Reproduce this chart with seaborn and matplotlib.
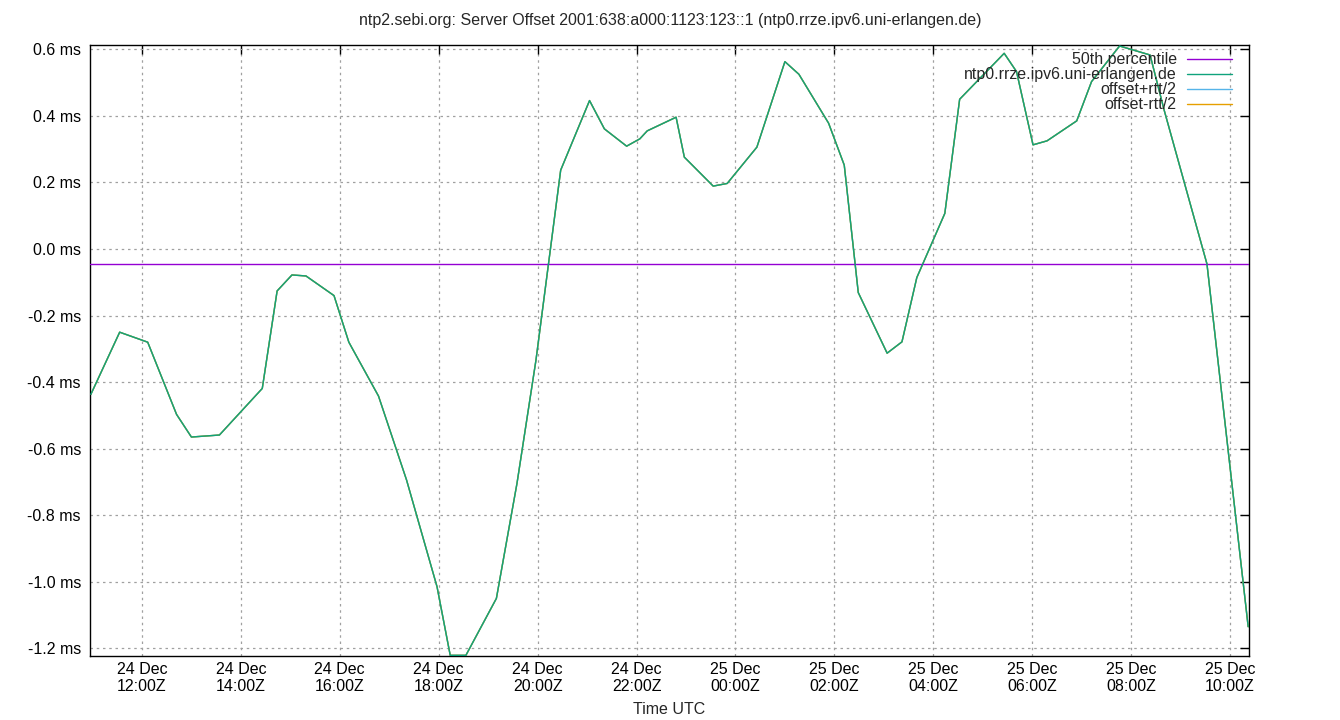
import matplotlib
matplotlib.use("Agg")
import pandas as pd
import matplotlib.pyplot as plt
import matplotlib.dates as mdates
import matplotlib.ticker as mticker
import seaborn as sns

times = [
    "2024-12-24 10:58", "2024-12-24 11:33", "2024-12-24 12:07", "2024-12-24 12:42",
    "2024-12-24 13:00", "2024-12-24 13:34", "2024-12-24 14:26", "2024-12-24 14:44",
    "2024-12-24 15:02", "2024-12-24 15:19", "2024-12-24 15:53", "2024-12-24 16:11",
    "2024-12-24 16:47", "2024-12-24 17:21", "2024-12-24 17:58", "2024-12-24 18:14",
    "2024-12-24 18:33", "2024-12-24 19:10", "2024-12-24 19:35", "2024-12-24 19:58",
    "2024-12-24 20:28", "2024-12-24 21:03", "2024-12-24 21:21", "2024-12-24 21:48",
    "2024-12-24 22:04", "2024-12-24 22:13", "2024-12-24 22:48", "2024-12-24 22:58",
    "2024-12-24 23:33", "2024-12-24 23:50", "2024-12-25 00:26", "2024-12-25 01:00",
    "2024-12-25 01:17", "2024-12-25 01:53", "2024-12-25 02:12", "2024-12-25 02:29",
    "2024-12-25 03:04", "2024-12-25 03:22", "2024-12-25 03:40", "2024-12-25 04:14",
    "2024-12-25 04:32", "2024-12-25 05:26", "2024-12-25 05:41", "2024-12-25 06:01",
    "2024-12-25 06:18", "2024-12-25 06:54", "2024-12-25 07:12", "2024-12-25 07:46",
    "2024-12-25 08:23", "2024-12-25 08:40", "2024-12-25 09:32", "2024-12-25 10:22",
]
offset_ms = [
    -0.437, -0.250, -0.280, -0.497,
    -0.565, -0.559, -0.419, -0.126,
    -0.078, -0.081, -0.140, -0.280,
    -0.442, -0.694, -1.015, -1.221,
    -1.221, -1.050, -0.704, -0.334,
    0.237, 0.446, 0.361, 0.309,
    0.331, 0.355, 0.396, 0.276,
    0.189, 0.197, 0.306, 0.563,
    0.525, 0.378, 0.252, -0.131,
    -0.313, -0.279, -0.086, 0.107,
    0.450, 0.588, 0.533, 0.313,
    0.325, 0.385, 0.503, 0.610,
    0.583, 0.418, -0.045, -1.135,
]
median_ms = -0.046

server = "ntp0.rrze.ipv6.uni-erlangen.de"
title = "ntp2.sebi.org: Server Offset 2001:638:a000:1123:123::1 (ntp0.rrze.ipv6.uni-erlangen.de)"

df = pd.DataFrame({"time": pd.to_datetime(times), "offset": offset_ms})

sns.set_style("white")
plt.rcParams["font.family"] = ["Liberation Sans", "DejaVu Sans"]
fs = 11.5

fig = plt.figure(figsize=(13.4, 7.2), dpi=100)
ax = fig.add_axes([90 / 1340, 1 - 656 / 720, (1249 - 90) / 1340, (656 - 45) / 720])

ax.axhline(median_ms, color="#9400d3", lw=1, label="50th percentile", zorder=3)
# rtt is tiny here, the +/- rtt/2 lines sit under the offset line
sns.lineplot(data=df, x="time", y="offset", ax=ax, color="#56b4e9", lw=1, label="offset+rtt/2", zorder=2)
sns.lineplot(data=df, x="time", y="offset", ax=ax, color="#e69f00", lw=1, label="offset-rtt/2", zorder=2)
sns.lineplot(data=df, x="time", y="offset", ax=ax, color="#0fa37c", lw=1.0, label=server, zorder=4)

ax.set_xlim(pd.Timestamp("2024-12-24 10:57"), pd.Timestamp("2024-12-25 10:23"))
ax.set_ylim(-1.223, 0.613)

ax.xaxis.set_major_locator(mdates.HourLocator(byhour=range(0, 24, 2)))
ax.xaxis.set_major_formatter(mdates.DateFormatter("%d %b\n%H:%MZ"))
ax.yaxis.set_major_locator(mticker.MultipleLocator(0.2))
ax.yaxis.set_major_formatter(mticker.FuncFormatter(lambda v, p: f"{v:.1f} ms".replace("-0.0", "0.0")))

ax.grid(True, color="#a0a0a0", lw=0.9, ls=(0, (2, 3)))
ax.tick_params(direction="in", length=6.5, width=1, top=True, right=True,
               labelsize=fs, colors="black", pad=6.5)
ax.tick_params(axis="x", pad=4)
for s in ax.spines.values():
    s.set_color("black")
    s.set_linewidth(1)

ax.set_xlabel("Time UTC", fontsize=fs, labelpad=6)
ax.set_ylabel("")

handles, labels = ax.get_legend_handles_labels()
order = ["50th percentile", server, "offset+rtt/2", "offset-rtt/2"]
hmap = dict(zip(labels, handles))
leg = ax.legend([hmap[k] for k in order], order, loc="upper right", frameon=False,
                markerfirst=False, fontsize=fs, handlelength=2.8, handletextpad=0.65,
                labelspacing=0.0, borderaxespad=0.3,
                bbox_to_anchor=(1 - 6 / 1159, 1 + 4 / 611))
for t in leg.get_texts():
    t.set_ha("right")

fig.suptitle(title, y=1 - 21 / 720, va="center", fontsize=fs)

fig.savefig("out.png", dpi=100)
